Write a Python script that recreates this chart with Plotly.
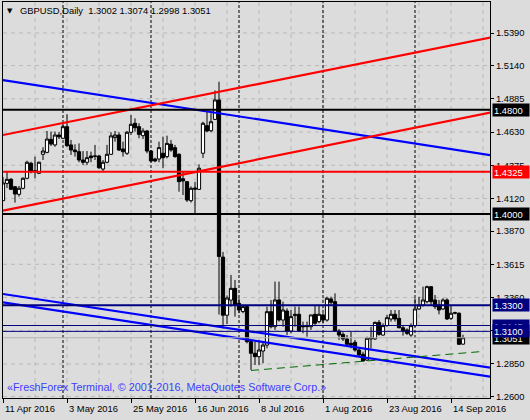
import plotly.graph_objects as go
import pandas as pd

# ---------------- data ----------------
START_DATE = "2016-04-11"
SYMBOL_TITLE = "GBPUSD,Daily  1.3002 1.3074 1.2998 1.3051"
COPYRIGHT = "«FreshForex Terminal, © 2001-2016, MetaQuotes Software Corp.»"

opens = [1.4103, 1.4236, 1.4267, 1.4210, 1.4152, 1.4198, 1.4275, 1.4390, 1.4333, 1.4313,
         1.4459, 1.4474, 1.4574, 1.4531, 1.4607, 1.4582, 1.4671, 1.4531, 1.4492, 1.4479,
         1.4415, 1.4398, 1.4446, 1.4446, 1.4446, 1.4346, 1.4398, 1.4459, 1.4587, 1.4607,
         1.4500, 1.4467, 1.4628, 1.4697, 1.4671, 1.4602, 1.4638, 1.4484, 1.4423, 1.4423,
         1.4467, 1.4441, 1.4536, 1.4510, 1.4459, 1.4271, 1.4249, 1.4103, 1.4200, 1.4190,
         1.4467, 1.4679, 1.4640, 1.4727, 1.4876, 1.3670, 1.3224, 1.3340, 1.3430, 1.3315,
         1.3252, 1.3290, 1.3021, 1.2932, 1.2906, 1.2949, 1.2995, 1.3251, 1.3136, 1.3341,
         1.3187, 1.3256, 1.3103, 1.3221, 1.3231, 1.3141, 1.3136, 1.3136, 1.3231, 1.3175,
         1.3226, 1.3187, 1.3349, 1.3328, 1.3103, 1.3077, 1.3042, 1.3008, 1.3016, 1.2957,
         1.2924, 1.2880, 1.3042, 1.3042, 1.3169, 1.3072, 1.3144, 1.3195, 1.3231, 1.3200,
         1.3128, 1.3111, 1.3072, 1.3144, 1.3272, 1.3302, 1.3328, 1.3443, 1.3341, 1.3302,
         1.3272, 1.3341, 1.3200, 1.3239, 1.3239, 1.3002]
highs = [1.4285, 1.4331, 1.4277, 1.4216, 1.4216, 1.4282, 1.4410, 1.4402, 1.4441, 1.4402,
         1.4513, 1.4638, 1.4633, 1.4633, 1.4630, 1.4697, 1.4766, 1.4569, 1.4536, 1.4543,
         1.4484, 1.4484, 1.4479, 1.4531, 1.4454, 1.4415, 1.4531, 1.4628, 1.4638, 1.4628,
         1.4556, 1.4638, 1.4761, 1.4735, 1.4697, 1.4659, 1.4646, 1.4492, 1.4433, 1.4556,
         1.4595, 1.4602, 1.4569, 1.4531, 1.4467, 1.4331, 1.4254, 1.4212, 1.4246, 1.4382,
         1.4709, 1.4786, 1.4774, 1.4949, 1.5016, 1.3710, 1.3376, 1.3533, 1.3494, 1.3354,
         1.3302, 1.3295, 1.3034, 1.3021, 1.3034, 1.3016, 1.3290, 1.3341, 1.3482, 1.3482,
         1.3328, 1.3277, 1.3264, 1.3290, 1.3290, 1.3175, 1.3175, 1.3226, 1.3302, 1.3302,
         1.3239, 1.3366, 1.3366, 1.3392, 1.3118, 1.3093, 1.3072, 1.3098, 1.3034, 1.2975,
         1.2944, 1.3059, 1.3136, 1.3175, 1.3187, 1.3162, 1.3226, 1.3264, 1.3264, 1.3264,
         1.3149, 1.3123, 1.3162, 1.3354, 1.3366, 1.3443, 1.3451, 1.3448, 1.3379, 1.3341,
         1.3354, 1.3354, 1.3302, 1.3251, 1.3246, 1.3074]
lows = [1.4100, 1.4200, 1.4185, 1.4088, 1.4134, 1.4190, 1.4267, 1.4313, 1.4275, 1.4308,
        1.4415, 1.4467, 1.4523, 1.4517, 1.4576, 1.4576, 1.4517, 1.4454, 1.4441, 1.4398,
        1.4377, 1.4377, 1.4398, 1.4415, 1.4346, 1.4326, 1.4390, 1.4454, 1.4556, 1.4484,
        1.4441, 1.4454, 1.4607, 1.4633, 1.4582, 1.4576, 1.4467, 1.4398, 1.4398, 1.4398,
        1.4352, 1.4428, 1.4479, 1.4433, 1.4172, 1.4146, 1.4093, 1.4089, 1.4005, 1.4185,
        1.4431, 1.4628, 1.4628, 1.4722, 1.3229, 1.3122, 1.3157, 1.3290, 1.3213, 1.3240,
        1.3239, 1.3008, 1.2804, 1.2842, 1.2842, 1.2855, 1.2970, 1.3123, 1.3111, 1.3175,
        1.3136, 1.3072, 1.3085, 1.3136, 1.3098, 1.3085, 1.3059, 1.3111, 1.3149, 1.3162,
        1.3162, 1.3175, 1.3302, 1.3098, 1.3034, 1.3026, 1.2983, 1.2970, 1.2944, 1.2906,
        1.2868, 1.2873, 1.2970, 1.3034, 1.3067, 1.3067, 1.3136, 1.3175, 1.3175, 1.3123,
        1.3067, 1.3072, 1.3059, 1.3136, 1.3264, 1.3290, 1.3315, 1.3302, 1.3272, 1.3231,
        1.3264, 1.3187, 1.3187, 1.3231, 1.2995, 1.2998]
closes = [1.4239, 1.4267, 1.4190, 1.4154, 1.4198, 1.4275, 1.4398, 1.4326, 1.4326, 1.4398,
          1.4484, 1.4576, 1.4538, 1.4607, 1.4593, 1.4671, 1.4525, 1.4492, 1.4479, 1.4415,
          1.4398, 1.4433, 1.4433, 1.4444, 1.4356, 1.4398, 1.4459, 1.4600, 1.4607, 1.4492,
          1.4479, 1.4628, 1.4689, 1.4663, 1.4612, 1.4638, 1.4484, 1.4408, 1.4408, 1.4510,
          1.4433, 1.4543, 1.4492, 1.4441, 1.4249, 1.4254, 1.4108, 1.4198, 1.4192, 1.4352,
          1.4697, 1.4638, 1.4709, 1.4876, 1.3675, 1.3224, 1.3356, 1.3430, 1.3302, 1.3264,
          1.3290, 1.3021, 1.2932, 1.2906, 1.2957, 1.2995, 1.3251, 1.3136, 1.3341, 1.3187,
          1.3264, 1.3103, 1.3213, 1.3231, 1.3103, 1.3136, 1.3141, 1.3226, 1.3162, 1.3231,
          1.3187, 1.3354, 1.3323, 1.3103, 1.3072, 1.3042, 1.3001, 1.2995, 1.2957, 1.2919,
          1.2873, 1.3047, 1.3052, 1.3169, 1.3077, 1.3144, 1.3205, 1.3231, 1.3195, 1.3128,
          1.3103, 1.3085, 1.3144, 1.3272, 1.3302, 1.3341, 1.3443, 1.3328, 1.3290, 1.3264,
          1.3341, 1.3195, 1.3239, 1.3243, 1.3001, 1.3051]

# price-axis grid levels and their labels ("" = hidden behind the level boxes)
price_ticks = [1.5390, 1.5140, 1.4885, 1.4630, 1.4375, 1.4120, 1.3870,
               1.3615, 1.3360, 1.3105, 1.2850, 1.2600]
price_tick_text = ["1.5390", "1.5140", "1.4885", "1.4630", "1.4375", "1.4120", "1.3870",
                   "1.3615", "1.3360", "", "1.2850", "1.2600"]

# horizontal levels: value, colour, width
level_values = [1.4800, 1.4325, 1.4000, 1.3300, 1.3145, 1.3100, 1.3051]
level_colors = ["#000000", "#ff0000", "#000000", "#000080", "#000080", "#000080", "#b4b4b4"]
level_widths = [2, 2, 2, 2, 1, 1, 1]
# right-edge label boxes (drawn in this order)
box_values = [1.4800, 1.4325, 1.4000, 1.3300, 1.3145, 1.3051, 1.3100]
box_colors = ["#000000", "#ff0000", "#000000", "#000080", "#000080", "#000000", "#000080"]

# trend lines: (bar index, price) anchors
trend_x = [0, 122]
trend_blue_top = [1.5029, 1.4452]
trend_red_top = [1.4607, 1.5356]
trend_red_bottom = [1.4026, 1.4780]
trend_blue_mid = [1.3387, 1.2820]
trend_blue_low = [1.3323, 1.2751]
green_x = [62, 120]
green_y = [1.2800, 1.2946]

# ---------------- figure ----------------
n = len(opens)
dates = pd.bdate_range(START_DATE, periods=n)
idx = list(range(n))
label_idx = list(range(0, n, 16))
label_text = [f"{dates[i].day} {dates[i].strftime('%b')} {dates[i].year}" for i in label_idx]
month_sep = [i for i in range(1, n) if dates[i].month != dates[i - 1].month]
grid_x = list(range(8, 122, 8))

X_MAX = 121.75
Y_MIN, Y_MAX = 1.25886, 1.56279
BG = "#dcdcdc"
GRID = "#b9b9b9"
FONT = "Liberation Sans, Arial, sans-serif"

fig = go.Figure()
fig.add_trace(go.Candlestick(
    x=idx, open=opens, high=highs, low=lows, close=closes,
    increasing=dict(line=dict(color="black", width=1), fillcolor="white"),
    decreasing=dict(line=dict(color="black", width=1), fillcolor="black"),
    whiskerwidth=0, hoverinfo="skip", showlegend=False))

for ys, col in [(trend_blue_top, "#0000ff"), (trend_red_top, "#ff0000"),
                (trend_red_bottom, "#ff0000"), (trend_blue_mid, "#0000ff"),
                (trend_blue_low, "#0000ff")]:
    fig.add_trace(go.Scatter(x=trend_x, y=ys, mode="lines",
                             line=dict(color=col, width=2.2), hoverinfo="skip",
                             showlegend=False))
fig.add_trace(go.Scatter(x=green_x, y=green_y, mode="lines",
                         line=dict(color="#006a00", width=1, dash="8px,5px"),
                         hoverinfo="skip", showlegend=False))

shapes = []
for gx in grid_x:
    shapes.append(dict(type="line", xref="x", yref="paper", x0=gx, x1=gx, y0=0, y1=1,
                       layer="below", line=dict(color=GRID, width=1, dash="4px,4px")))
for v in price_ticks:
    shapes.append(dict(type="line", xref="paper", yref="y", x0=0, x1=1, y0=v, y1=v,
                       layer="below", line=dict(color=GRID, width=1, dash="4px,4px")))
for s in month_sep:
    shapes.append(dict(type="line", xref="x", yref="paper", x0=s, x1=s, y0=0, y1=1,
                       layer="below", line=dict(color="black", width=1, dash="3px,2px")))
for v, c, w in zip(level_values, level_colors, level_widths):
    shapes.append(dict(type="line", xref="paper", yref="y", x0=0, x1=1, y0=v, y1=v,
                       layer="above", line=dict(color=c, width=w)))

annotations = []
for i, t in zip(label_idx, label_text):
    annotations.append(dict(x=i, y=-0.0253, xref="x", yref="paper", text=t,
                            xanchor="left", yanchor="middle", showarrow=False,
                            font=dict(family=FONT, size=9.4, color="black")))
for v, c in zip(box_values, box_colors):
    annotations.append(dict(x=1, y=v, xref="paper", yref="y", text=f"{v:.4f}",
                            xanchor="left", yanchor="middle", xshift=2, showarrow=False,
                            bgcolor=c, width=34, height=10, borderpad=1, align="left",
                            font=dict(family=FONT, size=9.4, color="white")))
annotations.append(dict(x=0.0308, y=0.978, xref="paper", yref="paper", text=SYMBOL_TITLE,
                        xanchor="left", yanchor="middle", showarrow=False,
                        font=dict(family=FONT, size=9.4, color="black")))
annotations.append(dict(x=0.0142, y=0.978, xref="paper", yref="paper", text="▼",
                        xanchor="center", yanchor="middle", showarrow=False,
                        font=dict(family="DejaVu Sans", size=7, color="black")))
annotations.append(dict(x=0.004, y=0.027, xref="paper", yref="paper", text=COPYRIGHT,
                        xanchor="left", yanchor="middle", showarrow=False,
                        font=dict(family=FONT, size=10.8, color="#3c3cff")))

fig.update_layout(
    width=530, height=420,
    margin=dict(l=3, r=40, t=2, b=22, pad=0),
    paper_bgcolor=BG, plot_bgcolor=BG,
    boxgap=0.2, boxgroupgap=0,
    shapes=shapes, annotations=annotations,
    showlegend=False,
    xaxis=dict(range=[0, X_MAX], showgrid=False, zeroline=False, automargin=False,
               showline=True, mirror=True, linecolor="black", linewidth=1,
               tickvals=label_idx, ticktext=[""] * len(label_idx),
               ticks="outside", ticklen=4, tickcolor="black",
               rangeslider=dict(visible=False), fixedrange=True),
    yaxis=dict(range=[Y_MIN, Y_MAX], side="right", showgrid=False, zeroline=False,
               automargin=False,
               showline=True, mirror=True, linecolor="black", linewidth=1,
               tickvals=price_ticks, ticktext=price_tick_text,
               ticks="outside", ticklen=3, tickcolor="black",
               tickfont=dict(family=FONT, size=9.4, color="black"), fixedrange=True),
)

fig.write_html("out.html",
               config={"displayModeBar": False, "staticPlot": True},
               post_script="document.body.style.margin='0';document.body.style.padding='0';"
                           "document.body.style.background='#dcdcdc';")
